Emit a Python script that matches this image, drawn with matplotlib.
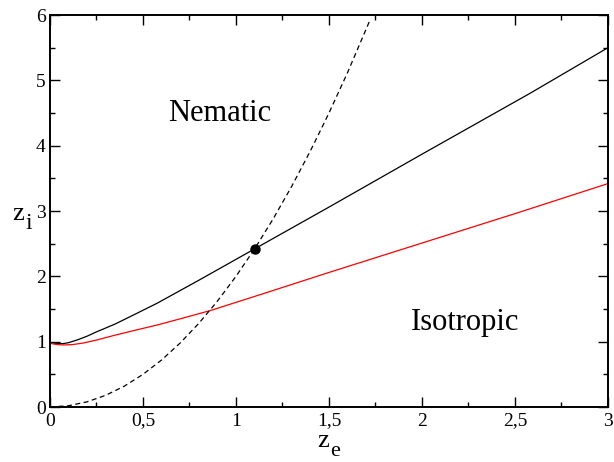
import matplotlib
matplotlib.use("Agg")
from matplotlib import pyplot as plt
from matplotlib.ticker import MultipleLocator, FuncFormatter

# transition line (solid black)
ze_black = [0, 0.03, 0.07, 0.1, 0.15, 0.2, 0.25, 0.35, 0.45, 0.577, 0.8, 1.1, 1.5, 2.0, 2.58, 3.0]
zi_black = [0.985, 0.975, 0.97, 0.985, 1.03, 1.085, 1.15, 1.27, 1.41, 1.59, 1.94, 2.42, 3.06, 3.87, 4.80, 5.50]

# red line
ze_red = [0, 0.04, 0.08, 0.12, 0.18, 0.25, 0.35, 0.45, 0.577, 0.7, 0.866, 1.13, 1.5, 2.0, 2.5, 3.0]
zi_red = [0.975, 0.955, 0.95, 0.955, 0.98, 1.025, 1.10, 1.17, 1.256, 1.35, 1.48, 1.72, 2.06, 2.51, 2.96, 3.42]

# dashed curve
ze_dash = [0, 0.1, 0.2, 0.3, 0.4, 0.5, 0.6, 0.7, 0.8, 0.9, 1.0, 1.1, 1.2, 1.3, 1.4, 1.5, 1.6, 1.72]
zi_dash = [0, 0.02, 0.08, 0.18, 0.32, 0.5, 0.72, 0.98, 1.28, 1.62, 2.0, 2.42, 2.88, 3.38, 3.92, 4.5, 5.12, 5.92]

# crossing point
pt_ze = [1.1]
pt_zi = [2.42]

plt.rcParams['font.family'] = ['Liberation Serif', 'DejaVu Serif']

fig = plt.figure(figsize=(6.14, 4.62), dpi=100)
ax = fig.add_axes([0.0814, 0.119, 0.9088, 0.8485])

ax.plot(ze_black, zi_black, color='black', lw=0.9)
ax.plot(ze_red, zi_red, color='red', lw=0.9)
ax.plot(ze_dash, zi_dash, color='black', lw=0.9, dashes=(4, 2.8))
ax.plot(pt_ze, pt_zi, 'o', color='black', ms=6.5)

ax.text(0.912, 4.50, 'Nematic', fontsize=22, ha='center', va='center')
ax.text(2.23, 1.30, 'Isotropic', fontsize=22, ha='center', va='center')

ax.set_xlim(0, 3)
ax.set_ylim(0, 6)
ax.xaxis.set_major_locator(MultipleLocator(0.5))
ax.xaxis.set_minor_locator(MultipleLocator(0.25))
ax.yaxis.set_major_locator(MultipleLocator(1))
ax.yaxis.set_minor_locator(MultipleLocator(0.5))


def comma(v, pos):
    s = ('%.1f' % v).rstrip('0').rstrip('.')
    return s.replace('.', ',')


ax.xaxis.set_major_formatter(FuncFormatter(comma))
ax.yaxis.set_major_formatter(FuncFormatter(comma))
ax.tick_params(which='both', direction='in', top=True, right=True, width=1.0, labelsize=14)
ax.tick_params(which='major', length=7)
ax.tick_params(which='minor', length=3.6)
ax.tick_params(axis='x', pad=4)
ax.tick_params(axis='y', pad=3)
for sp in ax.spines.values():
    sp.set_linewidth(1.4)

# axis labels with large subscripts
fig.text(0.527, 0.033, 'z', fontsize=19, ha='center', va='baseline')
fig.text(0.546, 0.014, 'e', fontsize=16, ha='center', va='baseline')
fig.text(0.029, 0.523, 'z', fontsize=19, ha='center', va='baseline')
fig.text(0.047, 0.505, 'i', fontsize=17, ha='center', va='baseline')

fig.savefig('out.png', dpi=100)
